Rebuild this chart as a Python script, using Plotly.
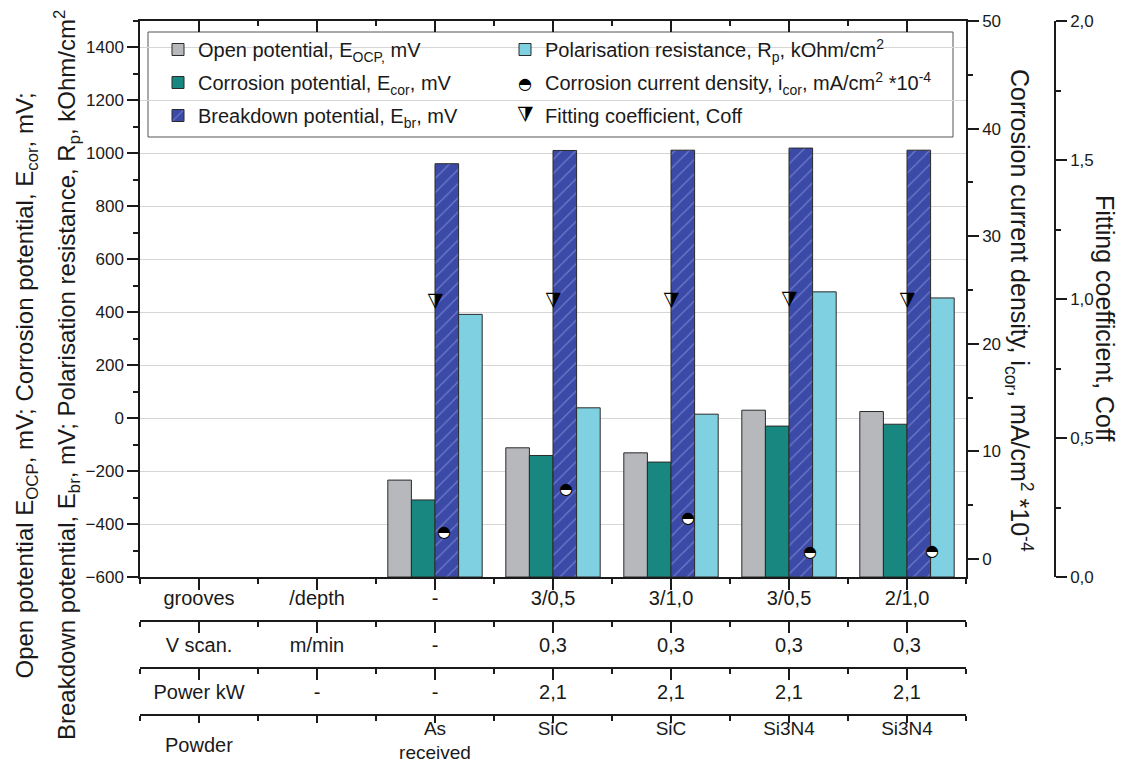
import plotly.graph_objects as go

# ---------------- data ----------------
categories = ["grooves", "/depth", "-", "3/0,5", "3/1,0", "3/0,5", "2/1,0"]
row_vscan = ["V scan.", "m/min", "-", "0,3", "0,3", "0,3", "0,3"]
row_power = ["Power kW", "-", "-", "2,1", "2,1", "2,1", "2,1"]
row_powder = ["", "", "As<br>received", "SiC", "SiC", "Si3N4", "Si3N4"]
row_powder_head = "Powder"

sample_idx = [2, 3, 4, 5, 6]
E_ocp = [-234, -112, -131, 30, 25]      # mV
E_cor = [-309, -141, -166, -30, -23]    # mV
E_br = [961, 1011, 1012, 1020, 1012]    # mV
R_p = [392, 39, 15, 477, 454]           # kOhm/cm2
i_cor = [2.4, 6.4, 3.7, 0.53, 0.68]     # mA/cm2 *10^-4
coff = [0.985, 0.99, 0.99, 0.995, 0.99]

Y_MIN, Y_MAX = -600, 1500

# ---------------- geometry helpers ----------------
W, H = 1134, 767
ML, MR, MT, MB = 140, 34, 21, 30
PW = W - ML - MR
PH = H - MT - MB


def px_x(px):
    return (px - ML) / PW


def px_y(py):
    return (H - MB - py) / PH


FONT = "Liberation Sans, Arial, sans-serif"
BLACK = "#1a1a1a"
GLYPH = "DejaVu Sans"

fig = go.Figure()

bar_specs = [
    (E_ocp, "Open potential, E<sub>OCP,</sub> mV", "#b6b8bc", None, 1),
    (E_cor, "Corrosion potential, E<sub>cor</sub>, mV", "#17877f", None, 3),
    (E_br, "Breakdown potential, E<sub>br</sub>, mV", "#3b4aa6",
     dict(shape="/", fgcolor="#a3acef", size=10, solidity=0.12), 5),
    (R_p, "Polarisation resistance, R<sub>p</sub>, kOhm/cm<sup>2</sup>", "#7fd0e0", None, 2),
]
for vals, name, col, pat, rank in bar_specs:
    marker = dict(color=col, line=dict(color="#2a2a2a", width=1))
    if pat:
        marker["pattern"] = pat
    fig.add_trace(go.Bar(
        x=sample_idx, y=[v - Y_MIN for v in vals], base=Y_MIN,
        name=name, marker=marker, legendrank=rank,
        legend="legend" if rank in (1, 3, 5) else "legend2",
        legendgroup=name, customdata=vals,
        hovertemplate="%{customdata}<extra></extra>",
        xaxis="x", yaxis="y",
    ))

# corrosion current density (own Origin layer -> slightly different x scale)
fig.add_trace(go.Scatter(
    x=sample_idx, y=i_cor, mode="markers", xaxis="x6", yaxis="y2",
    name="Corrosion current density, i<sub>cor</sub>, mA/cm<sup>2</sup> *10<sup>-4</sup>",
    marker=dict(symbol="circle", size=11, color="white", line=dict(width=0)),
    legend="legend2", legendrank=4, legendgroup="icor",
))
fig.add_trace(go.Scatter(
    x=sample_idx, y=i_cor, mode="text", text=["◓"] * len(i_cor), xaxis="x6", yaxis="y2",
    textfont=dict(family=GLYPH, size=16, color="black"), showlegend=False,
    hoverinfo="skip", legendgroup="icor",
))

# fitting coefficient (symbol drawn as half-filled glyph annotations below)
fig.add_trace(go.Scatter(
    x=sample_idx, y=coff, mode="markers", xaxis="x", yaxis="y3",
    name="Fitting coefficient, Coff",
    marker=dict(symbol="triangle-down", size=15, color="rgba(0,0,0,0)", line=dict(width=0)),
    legend="legend2", legendrank=6, legendgroup="coff",
))

# empty traces so that the table axes and the top frame axis get drawn
for ax in ["x2", "x3", "x4", "x5"]:
    fig.add_trace(go.Scatter(x=[None], y=[None], xaxis=ax, yaxis="y",
                             showlegend=False, hoverinfo="skip"))

annotations = []
for xi, ci in zip(sample_idx, coff):
    annotations.append(dict(
        x=xi, y=ci, xref="x", yref="y3", text="◭", textangle=180, showarrow=False,
        font=dict(family=GLYPH, size=20, color="black"),
        xanchor="center", yanchor="middle",
    ))

# half-filled legend symbols (drawn where the legend puts its symbols)
annotations.append(dict(x=px_x(525), y=px_y(83), xref="paper", yref="paper", showarrow=False,
                        text="◓", font=dict(family=GLYPH, size=16, color="black"),
                        xanchor="center", yanchor="middle"))
annotations.append(dict(x=px_x(525), y=px_y(116), xref="paper", yref="paper", showarrow=False,
                        text="◭", textangle=180, font=dict(family=GLYPH, size=20, color="black"),
                        xanchor="center", yanchor="middle"))

# "Powder" row heading
annotations.append(dict(x=0, y=px_y(745), xref="x", yref="paper", showarrow=False,
                        text=row_powder_head, font=dict(family=FONT, size=20, color=BLACK),
                        xanchor="center", yanchor="middle"))

# axis titles (x positions compensate the shift of rotated text)
LFONT = dict(family=FONT, size=24, color=BLACK)
RFONT = dict(family=FONT, size=25, color=BLACK)
annotations += [
    dict(x=px_x(8), y=px_y(386), xref="paper", yref="paper", showarrow=False, textangle=-90,
         text="Open potential E<sub>OCP</sub>, mV; Corrosion potential, E<sub>cor</sub>, mV;",
         font=LFONT),
    dict(x=px_x(48), y=px_y(375), xref="paper", yref="paper", showarrow=False, textangle=-90,
         text="Breakdown potential, E<sub>br</sub>, mV; Polarisation resistance, R<sub>p</sub>, kOhm/cm<sup>2</sup>",
         font=LFONT),
    dict(x=px_x(1039), y=px_y(310), xref="paper", yref="paper", showarrow=False, textangle=90,
         text="Corrosion current density, i<sub>cor</sub>, mA/cm<sup>2</sup> *10<sup>-4</sup>",
         font=RFONT),
    dict(x=px_x(1121), y=px_y(318), xref="paper", yref="paper", showarrow=False, textangle=90,
         text="Fitting coefficient, Coff",
         font=RFONT),
]

x_dom = [0, px_x(966)]
y_dom = [px_y(577), 1]
tick_common = dict(ticks="outside", ticklen=11, tickwidth=1.5, tickcolor=BLACK,
                   showline=True, linewidth=1.5, linecolor=BLACK, showgrid=False,
                   zeroline=False, automargin=False)
xcommon = dict(tick_common, range=[-0.5, 6.5], tickmode="array", tickvals=list(range(7)),
               tickfont=dict(family=FONT, size=20, color=BLACK), ticklabelstandoff=-5,
               minor=dict(tickmode="linear", tick0=-0.5, dtick=1, ticks="outside",
                          ticklen=5, tickwidth=1.5, tickcolor=BLACK))

fig.update_layout(
    width=W, height=H,
    margin=dict(l=ML, r=MR, t=MT, b=MB, autoexpand=False),
    paper_bgcolor="white", plot_bgcolor="white",
    separators=",.",
    barmode="group", bargap=0.2, bargroupgap=0,
    font=dict(family=FONT, color=BLACK),
    xaxis=dict(xcommon, domain=x_dom, ticktext=categories, anchor="y", ticklabelstandoff=-9),
    xaxis2=dict(xcommon, overlaying="x", anchor="free", position=px_y(621), ticktext=row_vscan),
    xaxis3=dict(xcommon, overlaying="x", anchor="free", position=px_y(668), ticktext=row_power),
    xaxis4=dict(xcommon, overlaying="x", anchor="free", position=px_y(715), ticktext=row_powder,
                ticklen=7, ticklabelstandoff=-11, tickfont=dict(family=FONT, size=19, color=BLACK)),
    xaxis5=dict(xcommon, overlaying="x", anchor="y", side="top", ticks="inside",
                showticklabels=False, ticktext=categories,
                minor=dict(tickmode="linear", tick0=-0.5, dtick=1, ticks="inside",
                           ticklen=5, tickwidth=1.5, tickcolor=BLACK)),
    xaxis6=dict(overlaying="x", anchor="y", range=[-0.492, 6.279], visible=False,
                automargin=False),
    yaxis=dict(tick_common, domain=y_dom, range=[Y_MIN, Y_MAX], dtick=200, tick0=0,
               showgrid=True, gridcolor="#d6d6d6", gridwidth=1,
               tickfont=dict(family=FONT, size=17, color=BLACK),
               minor=dict(dtick=100, ticks="outside", ticklen=5, tickwidth=1.5, tickcolor=BLACK)),
    yaxis2=dict(tick_common, overlaying="y", side="right", anchor="x", range=[-1.67, 50],
                dtick=10, tick0=0, tickfont=dict(family=FONT, size=17, color=BLACK),
                minor=dict(dtick=5, ticks="outside", ticklen=5, tickwidth=1.5, tickcolor=BLACK)),
    yaxis3=dict(tick_common, overlaying="y", side="right", anchor="free", position=px_x(1055),
                range=[0, 2], dtick=0.5, tick0=0, tickformat=".1f",
                tickfont=dict(family=FONT, size=17, color=BLACK),
                minor=dict(dtick=0.25, ticks="outside", ticklen=5, tickwidth=1.5, tickcolor=BLACK)),
    legend=dict(x=px_x(158), y=px_y(30), xanchor="left", yanchor="top",
                bgcolor="rgba(0,0,0,0)", font=dict(family=FONT, size=20, color=BLACK),
                tracegroupgap=4),
    legend2=dict(x=px_x(505), y=px_y(30), xanchor="left", yanchor="top",
                 bgcolor="rgba(0,0,0,0)", font=dict(family=FONT, size=20, color=BLACK),
                 tracegroupgap=4),
    shapes=[dict(type="rect", xref="paper", yref="paper",
                 x0=px_x(148), x1=px_x(953), y0=px_y(137), y1=px_y(32),
                 line=dict(color="#555555", width=1), fillcolor="white", layer="between")],
    annotations=annotations,
    showlegend=True,
)

fig.write_html("out.html", config={"displayModeBar": False},
               post_script="document.body.style.margin='0px';")
